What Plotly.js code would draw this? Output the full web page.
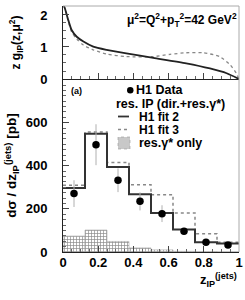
<!DOCTYPE html>
<html><head><meta charset="utf-8">
<script src="https://cdn.plot.ly/plotly-3.0.1.min.js"></script>
<style>html,body{margin:0;padding:0;background:#fff}#plot{width:245px;height:300px}</style>
</head><body><div id="plot"></div>
<script>
// ---- data ----
const binEdges   = [0, 0.125, 0.25, 0.375, 0.5, 0.625, 0.75, 0.875, 1.0];
const binCenters = [0.0625, 0.1875, 0.3125, 0.4375, 0.5625, 0.6875, 0.8125, 0.9375];
const h1Data     = [271, 498, 333, 235, 178, 96, 45, 33];
const h1DataErr  = [62, 95, 55, 42, 39, 12, 10, 9];
const fit2Hist   = [297, 549, 394, 268, 181, 104, 45, 39];
const fit3Hist   = [310, 557, 416, 312, 266, 181, 85, 45];
const resGammaOnly = [74, 102, 49, 19, 10, 3, 2, 1];

const zFit2 = [0.005, 0.011, 0.03, 0.049, 0.078, 0.116, 0.172, 0.248, 0.36, 0.513, 0.70, 0.835, 0.93, 1.0];
const gFit2 = [2.28, 2.2, 1.84, 1.53, 1.32, 1.17, 1.01, 0.91, 0.80, 0.66, 0.49, 0.33, 0.18, 0.0];
const zFit3 = [0.005, 0.011, 0.03, 0.049, 0.078, 0.116, 0.172, 0.248, 0.36, 0.513, 0.608, 0.70, 0.797, 0.89, 0.95, 0.985, 1.0];
const gFit3 = [2.28, 2.2, 1.8, 1.47, 1.25, 1.06, 0.91, 0.78, 0.70, 0.70, 0.77, 0.82, 0.82, 0.70, 0.44, 0.18, 0.0];

const yTicksBottom = [0, 200, 400, 600];
const yTicksTop = [0, 1, 2];

// ---- helpers ----
const stepY = a => a.concat([a[a.length - 1]]);
const FONT = 'Liberation Sans, Arial, sans-serif';
const bold = (size, color) => ({family: FONT, size: size, color: color || '#000', weight: 'bold'});
const px = x => (x - 63) / 176;
const py = y => (252 - y) / 246;

const traces = [
  {type: 'bar', x: binCenters, y: resGammaOnly, width: 0.125, xaxis: 'x', yaxis: 'y',
   marker: {color: '#fff', line: {color: '#aaa', width: 0.6},
            pattern: {shape: '+', fgcolor: '#8a8a8a', bgcolor: '#fff', size: 3, solidity: 0.4}},
   showlegend: false, hoverinfo: 'skip'},
  {type: 'scatter', mode: 'lines', x: binEdges, y: stepY(fit3Hist), xaxis: 'x', yaxis: 'y',
   line: {shape: 'hv', color: '#888', width: 1.5, dash: 'dot'}, showlegend: false},
  {type: 'scatter', mode: 'lines', x: binEdges, y: stepY(fit2Hist), xaxis: 'x', yaxis: 'y',
   line: {shape: 'hv', color: '#333', width: 2}, showlegend: false},
  {type: 'scatter', mode: 'markers', x: binCenters, y: h1Data, xaxis: 'x', yaxis: 'y',
   marker: {color: '#000', size: 7.5},
   error_y: {type: 'data', array: h1DataErr, color: '#b0b0b0', thickness: 1, width: 0},
   showlegend: false},
  {type: 'scatter', mode: 'lines', x: zFit3, y: gFit3, xaxis: 'x2', yaxis: 'y2',
   line: {shape: 'spline', smoothing: 0.6, color: '#888', width: 1.3, dash: 'dot'}, showlegend: false},
  {type: 'scatter', mode: 'lines', x: zFit2, y: gFit2, xaxis: 'x2', yaxis: 'y2',
   line: {shape: 'spline', smoothing: 0.6, color: '#222', width: 1.8}, showlegend: false}
];

const split = (252 - 79) / 246;
const xCommon = {range: [0, 1], dtick: 0.2, tick0: 0, ticks: 'inside', ticklen: 6, tickcolor: '#444',
  minor: {ticks: 'inside', ticklen: 3, dtick: 0.05, tickcolor: '#666'},
  showline: true, linecolor: '#222', linewidth: 1, showgrid: false, zeroline: false,
  tickfont: bold(13)};

const layout = {
  width: 245, height: 300,
  margin: {l: 63, r: 6, t: 6, b: 48},
  paper_bgcolor: '#fff', plot_bgcolor: '#fff',
  bargap: 0,
  font: bold(13),
  xaxis: Object.assign({}, xCommon, {anchor: 'y', domain: [0, 1], ticklabelstandoff: -2}),
  xaxis2: Object.assign({}, xCommon, {anchor: 'y2', domain: [0, 1], showticklabels: false}),
  yaxis: {domain: [0, split], range: [0, 803], tickmode: 'array', tickvals: yTicksBottom,
    ticks: 'inside', ticklen: 6, tickcolor: '#444',
    minor: {ticks: 'inside', ticklen: 3, tickmode: 'linear', tick0: 0, dtick: 25, tickcolor: '#666'},
    showline: true, linecolor: '#222', showgrid: false, zeroline: false,
    tickfont: bold(13), ticklabelstandoff: 12,
    title: {text: 'dσ / dz<sub>IP</sub><sup>(jets)</sup> [pb]', font: bold(13.5), standoff: 5}},
  yaxis2: {domain: [split, 1], range: [0, 2.28], tickmode: 'array', tickvals: yTicksTop,
    ticks: 'inside', ticklen: 6, tickcolor: '#444',
    minor: {ticks: 'inside', ticklen: 3, tickmode: 'linear', tick0: 0, dtick: 0.25, tickcolor: '#666'},
    showline: true, linecolor: '#222', showgrid: false, zeroline: false,
    tickfont: bold(13), ticklabelstandoff: 12,
    title: {text: 'z g<sub>IP</sub>(z,μ<sup>2</sup>)', font: bold(12), standoff: 16}},
  shapes: [
    {type: 'line', xref: 'paper', yref: 'paper', x0: 0, x1: 1, y0: 1, y1: 1, line: {color: '#aaa', width: 1}},
    {type: 'line', xref: 'paper', yref: 'paper', x0: 1, x1: 1, y0: 0, y1: 1, line: {color: '#aaa', width: 1}},
    // legend symbols
    {type: 'circle', xref: 'paper', yref: 'paper', x0: px(127), x1: px(133.5), y0: py(93.5), y1: py(87),
     fillcolor: '#000', line: {color: '#000', width: 0}},
    {type: 'line', xref: 'paper', yref: 'paper', x0: px(118), x1: px(129), y0: py(116.5), y1: py(116.5),
     line: {color: '#333', width: 1.8}},
    {type: 'line', xref: 'paper', yref: 'paper', x0: px(118), x1: px(130), y0: py(129.5), y1: py(129.5),
     line: {color: '#888', width: 1.3, dash: 'dot'}},
    {type: 'rect', xref: 'paper', yref: 'paper', x0: px(118), x1: px(130), y0: py(149), y1: py(137),
     fillcolor: '#c8c8c8', line: {color: '#999', width: 0.6, dash: 'dot'}}
  ],
  annotations: [
    {xref: 'paper', yref: 'paper', x: 1, y: py(20), xanchor: 'right', yanchor: 'middle', showarrow: false,
     text: 'μ<sup>2</sup>=Q<sup>2</sup>+p<sub>T</sub><sup>2</sup>=42 GeV<sup>2</sup>', font: bold(12)},
    {xref: 'paper', yref: 'paper', x: px(69), y: py(91), xanchor: 'left', yanchor: 'middle', showarrow: false,
     text: '(a)', font: bold(9)},
    {xref: 'paper', yref: 'paper', x: px(135), y: py(90), xanchor: 'left', yanchor: 'middle', showarrow: false,
     text: 'H1 Data', font: bold(12.5), borderpad: 0},
    {xref: 'paper', yref: 'paper', x: px(115), y: py(103.5), xanchor: 'left', yanchor: 'middle', showarrow: false,
     text: 'res. IP (dir.+res.γ*)', font: bold(12.5), borderpad: 0},
    {xref: 'paper', yref: 'paper', x: px(138), y: py(116.5), xanchor: 'left', yanchor: 'middle', showarrow: false,
     text: 'H1 fit 2', font: bold(12), borderpad: 0},
    {xref: 'paper', yref: 'paper', x: px(138), y: py(129.5), xanchor: 'left', yanchor: 'middle', showarrow: false,
     text: 'H1 fit 3', font: bold(12), borderpad: 0},
    {xref: 'paper', yref: 'paper', x: px(138), y: py(143), xanchor: 'left', yanchor: 'middle', showarrow: false,
     text: 'res.γ* only', font: bold(12.5), borderpad: 0},
    {xref: 'paper', yref: 'paper', x: 1, y: py(280), xanchor: 'right', yanchor: 'middle', showarrow: false,
     text: 'z<sub>IP</sub><sup>(jets)</sup>', font: bold(13)}
  ]
};

Plotly.newPlot('plot', traces, layout, {staticPlot: true, displayModeBar: false});
</script>
</body></html>
